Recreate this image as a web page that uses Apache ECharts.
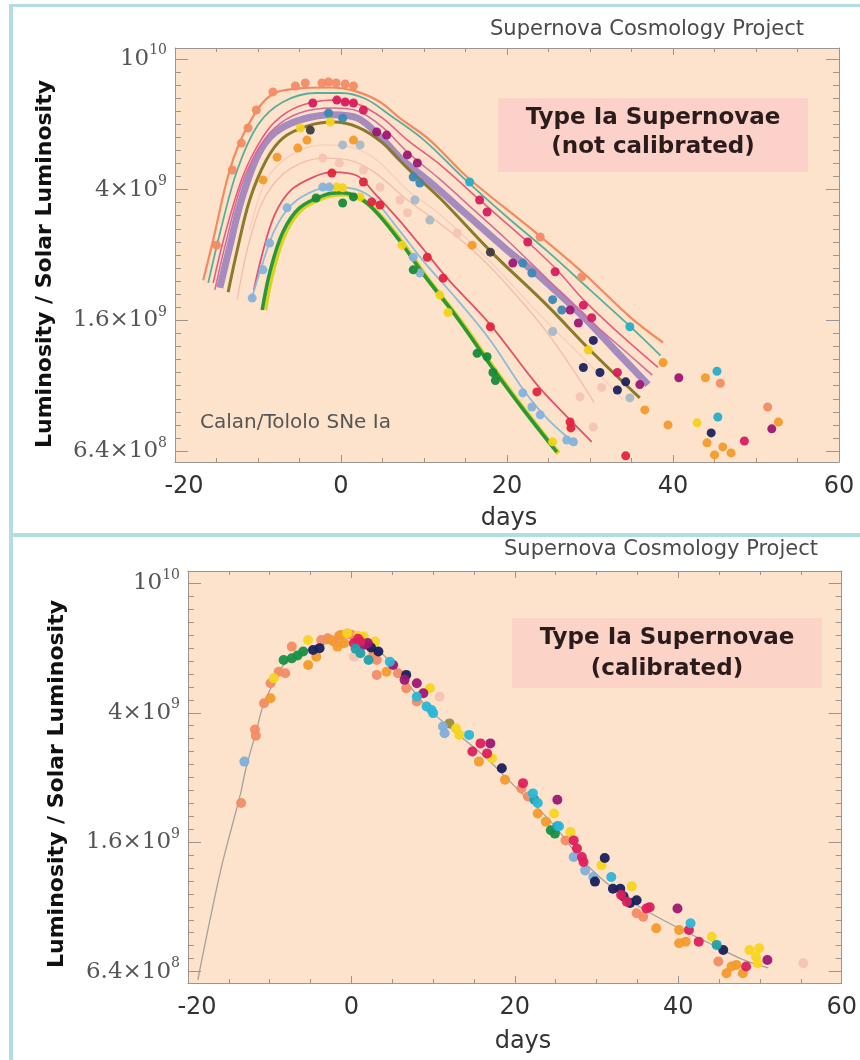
<!DOCTYPE html>
<html><head><meta charset="utf-8">
<script src="https://cdn.jsdelivr.net/npm/echarts@6/dist/echarts.min.js"></script>
<style>html,body{margin:0;padding:0;background:#fff}#c{width:860px;height:1060px}</style>
</head><body><div id="c"></div>
<script>
// ---------- DATA (days, luminosity in units of 1e9 solar luminosities) ----------
const UNIT = 1e9;
const xTickValues = [-20, 0, 20, 40, 60];
const yTickValues = [6.4e8, 1.6e9, 4e9, 1e10];
const yTickMantissa = ['6.4×10', '1.6×10', '4×10', '10'];
const yTickExponent = ['8', '9', '9', '10'];

// Top panel: fitted light curves (not calibrated)
const topOrange = [[-16.6,2.12],[-15.4,2.81],[-13.4,4.59],[-11.3,6.20],[-8.6,7.70],[-5.3,8.12],[-1.3,8.18],[1.9,7.95],[4.7,7.39],[7.1,6.60],[10.7,5.66],[15.2,4.37],[23.1,3.01],[29.2,2.23],[34.8,1.64],[38.8,1.37]];
const topTeal = [[-16.0,2.08],[-14.5,3.01],[-12.5,4.59],[-10,6.30],[-7,7.39],[-3,7.87],[0,7.87],[3,7.55],[6,6.71],[10,5.66],[15,4.28],[20,3.30],[25,2.58],[30,1.98],[35,1.52],[38.5,1.25]];
const topPink = [[-15.4,2.08],[-14,2.91],[-12,4.28],[-10,5.47],[-8,6.42],[-5,7.18],[-1,7.49],[2,7.29],[5,6.60],[8,5.66],[12,4.75],[16.7,3.72],[22.5,2.77],[26,2.28],[29.2,1.85],[33,1.50],[38.2,1.15]];
const topRose = [[-15.2,1.98],[-13.8,2.81],[-12,4.13],[-10,5.28],[-8,6.16],[-5,6.84],[-1,7.08],[2,6.94],[5,6.20],[8,5.20],[12,4.28],[16,3.47],[20,2.81],[25,2.12],[30,1.60],[35,1.24],[37.5,1.09]];
const topPurple = [[-14.6,2.01],[-13.5,2.62],[-12,3.72],[-10,5.10],[-8,5.95],[-5,6.51],[-1,6.76],[2,6.60],[5,5.70],[7.1,5.00],[10.7,4.22],[15.2,3.35],[20,2.62],[24,2.17],[29.2,1.64],[33,1.30],[37,1.02]];
const topOlive = [[-13.6,1.95],[-12.5,2.62],[-11,3.72],[-9,4.92],[-7,5.74],[-4,6.25],[-1,6.42],[2,6.20],[5,5.55],[8,4.65],[12,3.75],[18,2.60],[24.8,1.78],[30,1.30],[36,0.929]];
const topPale1 = [[-12.5,1.85],[-11,2.81],[-9,3.86],[-6,4.65],[-2,4.99],[1,4.92],[4,4.52],[8,3.72],[12,3.14],[16,2.60],[20,2.05],[25,1.45],[30.5,0.90]];
const topPale2 = [[-11,3.01],[-9,4.28],[-6,5.10],[-2,5.47],[1,5.40],[4,4.99],[8,3.99],[12,3.35],[18,2.41],[24,1.66],[30,1.17],[34,0.916]];
const topRed = [[-10.5,1.98],[-9.5,2.54],[-8,3.35],[-6,3.99],[-3,4.40],[-1,4.52],[2,4.40],[4,3.91],[7,3.23],[10,2.62],[13,2.12],[18,1.55],[23.6,1.02],[27.6,0.796],[30.2,0.683]];
const topLightBlue = [[-10.8,1.85],[-9.5,2.36],[-8,3.01],[-6,3.59],[-3,3.99],[-0.5,4.07],[2,3.99],[4,3.72],[7,3.01],[10,2.41],[14,1.85],[18,1.39],[22,0.982],[25,0.796],[28.4,0.668]];
const topYellow = [[-9.2,1.72],[-8.2,2.28],[-6.7,2.97],[-4.7,3.50],[-1.7,3.82],[0.3,3.88],[2.3,3.76],[4.3,3.42],[7.3,2.77],[10.3,2.16],[14.3,1.60],[18.3,1.15],[22.3,0.84],[26.2,0.63]];
const topGreen = [[-9.5,1.72],[-8.5,2.28],[-7,2.97],[-5,3.52],[-2,3.85],[0,3.91],[2,3.80],[4,3.47],[7,2.81],[10,2.20],[14,1.63],[18,1.17],[22,0.854],[26,0.636]];

// Top panel: observations
const topDotCoral = [[-15,2.71],[-13.1,4.59],[-12,5.54],[-11.2,6.16],[-10.2,6.99],[-8.2,7.93],[-5.5,8.27],[-4.3,8.44],[-2.3,8.44],[-1.5,8.50],[-0.6,8.44],[0.5,8.38],[1.5,8.27],[24,2.87],[29,2.17],[45.7,1.03],[51.4,0.872]];
const topDotOrange = [[-9.4,4.28],[-7.7,5.02],[-5.2,5.35],[-4.1,5.66],[1.5,5.66],[15.8,2.71],[36.6,0.854],[38.8,1.19],[39.4,0.769],[43.9,1.07],[44.1,0.678],[45,0.623],[46,0.659],[47,0.632],[52.7,0.785]];
const topDotMagenta = [[4.3,5.99],[5.5,5.86],[8,5.10],[9.2,4.82],[20.7,2.39],[27.6,1.72],[28.6,1.57],[36,1.02],[40.7,1.07],[51.9,0.748]];
const topDotCrimson = [[-3.4,7.34],[-0.5,7.49],[0.5,7.39],[1.5,7.34],[2.7,6.99],[16.7,3.72],[17.6,3.42],[22.5,2.77],[25.8,2.25],[29.2,1.78],[30.2,1.63],[33.3,1.11],[48.6,0.687]];
const topDotBlue = [[-1.5,6.84],[0.2,6.60],[8.7,4.37],[9.5,4.19],[21.9,2.39],[23,2.23],[25.5,1.85],[26.6,1.72]];
const topDotCyan = [[15.5,4.22],[34.8,1.53],[45.3,1.12],[45.4,0.813]];
const topDotNavy = [[29.2,1.15],[30.4,1.39],[31.2,1.11],[33.3,0.982],[34.3,1.04],[44.6,0.727]];
const topDotYellow = [[-4.9,6.16],[-1.3,6.42],[-0.5,4.07],[0.2,4.05],[2.3,3.80],[7.35,2.71],[11.9,1.91],[12.9,1.69],[25.5,0.683],[29.8,1.30],[42.9,0.780]];
const topDotDark = [[-3.7,6.07],[18,2.58]];
const topDotPale = [[-2.2,4.99],[-0.2,4.82],[2.7,4.59],[4.7,4.07],[7.1,3.72],[8,3.40],[14,2.95],[28.8,0.936],[30.4,0.758],[31.4,1.00]];
const topDotGray = [[0.2,5.47],[2.3,5.47],[8.9,3.72],[10.7,3.23],[25.5,1.48],[34.8,0.929]];
const topDotLightBlue = [[-10.7,1.87],[-9.4,2.28],[-8.6,2.75],[-6.5,3.52],[-2.2,4.07],[-1.4,4.07],[8.7,2.49],[9.5,2.23],[21.9,0.962],[23,0.872],[24,0.825],[27.2,0.692],[28,0.683]];
const topDotRed = [[-1.1,4.49],[2.7,4.22],[3.7,3.67],[4.7,3.59],[10.4,2.49],[12.3,2.15],[18,1.53],[23.6,0.969],[27.6,0.785],[27.7,0.753],[34.3,0.619]];
const topDotGreen = [[-3,3.77],[0.2,3.64],[1.5,3.80],[8.7,2.28],[16.4,1.27],[17.6,1.24],[18.3,1.11],[18.6,1.05]];

// Bottom panel: template curve and calibrated observations
const botTemplate = [[-18.8,0.603],[-16.0,1.31],[-13.6,2.24],[-12.9,2.70],[-11.7,3.47],[-10.7,4.29],[-9.3,5.05],[-8.1,5.69],[-6.1,6.11],[-3.7,6.47],[-1.3,6.61],[1.1,6.56],[3.5,6.15],[5.9,5.30],[9.2,4.17],[12.4,3.54],[16.4,2.92],[20.4,2.32],[24.4,1.85],[28,1.43],[31,1.21],[34,1.06],[37,0.955],[40.5,0.859],[44.5,0.767],[48,0.695],[51,0.657]];
const botCoral = [[-13.5,2.11],[-11.8,3.55],[-11.7,3.40],[-10.7,4.28],[-9.9,4.93],[-8.9,5.35],[-8.1,5.29],[-7.3,6.39],[-3.7,6.70],[-2.9,6.78],[-2.1,6.62],[-1.5,6.90],[-0.5,7.00],[0.0,6.95],[0.5,6.80],[1.8,6.50],[2.7,6.10],[3.1,5.81],[3.1,5.23],[5.7,5.29],[6.7,4.76],[8.0,4.33],[20.8,2.34],[21.6,2.21],[26.2,1.62],[34.9,0.967],[35.7,0.944],[44.9,0.687]];
const botOrange = [[-9.9,4.43],[-5.3,5.61],[-4.3,5.95],[-2.5,6.70],[-1.7,6.39],[-1.3,6.94],[-0.9,6.54],[4.3,5.35],[15.6,2.83],[18.8,2.49],[22.8,1.96],[23.8,1.85],[37.3,0.870],[40.1,0.782],[40.1,0.859],[40.9,0.791],[45.9,0.632],[46.5,0.663],[47.1,0.671],[47.9,0.632]];
const botYellow = [[-9.5,5.11],[-5.3,6.70],[-0.5,7.02],[0.8,6.90],[1.5,6.86],[2.9,6.62],[9.6,4.76],[12.8,3.58],[13.2,3.42],[17.2,2.90],[24.8,1.96],[26.8,1.72],[30.6,1.36],[34.3,1.17],[44.1,0.819],[48.7,0.746],[49.9,0.755],[49.5,0.711],[49.7,0.679]];
const botGreen = [[-8.3,5.81],[-7.3,5.88],[-6.6,6.00],[-5.9,6.17],[24.4,1.74],[24.9,1.70]];
const botNavy = [[-4.7,6.24],[-3.9,6.32],[2.4,6.35],[3.3,6.17],[6.7,5.23],[18.4,2.70],[31.0,1.43],[29.8,1.21],[32.0,1.15],[32.9,1.15],[33.3,1.09],[34.1,1.04],[34.9,1.06],[45.5,0.746]];
const botMagenta = [[1.5,6.47],[2.0,6.55],[5.1,5.61],[6.5,5.05],[8.0,4.93],[8.8,4.59],[17.0,3.22],[25.2,2.16],[39.9,1.00],[50.9,0.695]];
const botCrimson = [[0.3,6.54],[0.8,6.75],[1.1,6.62],[14.8,3.04],[15.8,3.22],[16.6,3.00],[21.0,2.43],[27.2,1.62],[27.6,1.53],[28.2,1.44],[28.4,1.39],[33.0,1.10],[33.7,1.05],[36.1,1.00],[36.5,1.01],[41.3,0.859],[42.5,0.791],[48.3,0.663]];
const botTeal = [[0.5,6.30],[1.1,6.10],[2.1,5.81],[22.4,2.16],[25.2,1.79],[44.7,0.773]];
const botCyan = [[4.7,5.74],[8.0,4.48],[9.2,4.18],[9.8,4.08],[10.0,3.99],[14.4,3.42],[22.2,2.26],[22.8,2.11],[25.4,1.79],[31.8,1.25],[41.5,0.901]];
const botLightBlue = [[-13.1,2.83],[11.2,3.63],[11.4,3.46],[27.2,1.44],[28.6,1.31],[29.6,1.25]];
const botPale = [[0.3,5.95],[10.8,4.48],[55.3,0.679]];
const botOlive = [[12.0,3.71]];

// ---------- STYLE / LAYOUT ----------
const AXIS_COLOR = '#9c958f';
const PLOT_BG = '#fde3cb';
const FRAME = '#b4dde1';
const TOP_Y = [8.773, 10.033];
const BOT_Y = [8.771, 10.038];

const toXY = arr => arr.map(p => [p[0], Math.log10(p[1] * UNIT)]);
const majorLog = yTickValues.map(Math.log10);
const step = (majorLog[2] - majorLog[1]) / 10;
function minorTicks(lo, hi) {
  const out = [];
  for (let k = -40; k <= 60; k++) {
    const v = majorLog[0] + k * step;
    if (v > lo + 1e-6 && v < hi - 1e-6) out.push(+v.toFixed(6));
  }
  return out;
}
const labelFmt = v => {
  let bi = 0, bd = 1e9;
  majorLog.forEach((m, i) => { const d = Math.abs(m - v); if (d < bd) { bd = d; bi = i; } });
  return '{m|' + yTickMantissa[bi] + '}{e|' + yTickExponent[bi] + '}';
};
const rich = {
  m: {fontFamily: 'DejaVu Serif', fontSize: 23, color: '#555', lineHeight: 30},
  e: {fontFamily: 'DejaVu Serif', fontSize: 14, color: '#555', verticalAlign: 'top', lineHeight: 16}
};
const xLabelFmt = v => v < 0 ? '{n|' + v + '}' : '{p|' + v + '}';
const xRich = {
  n: {fontFamily: 'DejaVu Sans', fontSize: 24, color: '#333', padding: [0, 0, 0, 18]},
  p: {fontFamily: 'DejaVu Sans', fontSize: 24, color: '#333'}
};

function axesFor(g, yr) {
  const common = {gridIndex: g, type: 'value', splitLine: {show: false},
    axisLine: {show: true, onZero: false, lineStyle: {color: AXIS_COLOR, width: 1}}};
  const xs = [
    Object.assign({}, common, {min: xTickValues[0], max: xTickValues[xTickValues.length - 1], interval: 20, position: 'bottom',
      axisTick: {inside: true, length: 7, lineStyle: {color: AXIS_COLOR}},
      minorTick: {show: true, splitNumber: 4, length: 4, lineStyle: {color: AXIS_COLOR}},
      axisLabel: {formatter: xLabelFmt, rich: xRich, margin: 13}}),
    Object.assign({}, common, {min: xTickValues[0], max: xTickValues[xTickValues.length - 1], interval: 20, position: 'top',
      axisTick: {inside: true, length: 7, lineStyle: {color: AXIS_COLOR}},
      minorTick: {show: true, splitNumber: 4, length: 4, lineStyle: {color: AXIS_COLOR}},
      axisLabel: {show: false}})
  ];
  const mins = minorTicks(yr[0], yr[1]);
  const mk = (pos, major) => Object.assign({}, common, {min: yr[0], max: yr[1], position: pos,
    axisLine: {show: major, onZero: false, lineStyle: {color: AXIS_COLOR, width: 1}},
    axisTick: {inside: true, length: major ? 13 : 6, customValues: major ? majorLog : mins, lineStyle: {color: AXIS_COLOR}},
    axisLabel: (major && pos === 'left') ? {customValues: majorLog, formatter: labelFmt, rich: rich, margin: 8} : {show: false}});
  const ys = [mk('left', true), mk('left', false), mk('right', true), mk('right', false)];
  return {xs, ys};
}
const a0 = axesFor(0, TOP_Y), a1 = axesFor(1, BOT_Y);

const series = [];
function line(data, color, width, xi, yi, opacity) {
  series.push({type: 'line', data: toXY(data), xAxisIndex: xi, yAxisIndex: yi, smooth: 0.35, symbol: 'none', silent: true,
    lineStyle: {color: color, width: width, opacity: opacity == null ? 1 : opacity}, z: 3});
}
function dots(data, color, size, xi, yi) {
  series.push({type: 'scatter', data: toXY(data), xAxisIndex: xi, yAxisIndex: yi, symbol: 'circle', symbolSize: size, silent: true,
    itemStyle: {color: color, opacity: 0.95}, z: 4});
}
// top lines
line(topPale2, '#f7cdbf', 1.3, 0, 0);
line(topPale1, '#f4bcad', 1.3, 0, 0);
line(topPurple, '#8e74ba', 7, 0, 0, 0.8);
line(topOlive, '#8a7a2a', 3, 0, 0);
line(topRose, '#d8689a', 1.5, 0, 0);
line(topPink, '#e65d7e', 1.6, 0, 0);
line(topTeal, '#5aae98', 1.8, 0, 0);
line(topOrange, '#f4895e', 2.2, 0, 0);
line(topRed, '#e2506a', 1.8, 0, 0);
line(topLightBlue, '#8dbbd9', 1.8, 0, 0);
line(topYellow, '#d8d41e', 5, 0, 0);
line(topGreen, '#28983c', 3.5, 0, 0);
// top dots
const TS = 9;
dots(topDotPale, '#f6c3b3', TS, 0, 0);
dots(topDotGray, '#a9b8c8', TS, 0, 0);
dots(topDotCoral, '#f28c66', TS, 0, 0);
dots(topDotOrange, '#f39a2b', TS, 0, 0);
dots(topDotMagenta, '#9e1672', TS, 0, 0);
dots(topDotCrimson, '#d81b5c', TS, 0, 0);
dots(topDotBlue, '#3a88b5', TS, 0, 0);
dots(topDotCyan, '#26aec6', TS, 0, 0);
dots(topDotNavy, '#1c2260', TS, 0, 0);
dots(topDotYellow, '#f2d21a', TS, 0, 0);
dots(topDotDark, '#3d3d3d', TS, 0, 0);
dots(topDotLightBlue, '#86b2db', TS, 0, 0);
dots(topDotRed, '#e1243e', TS, 0, 0);
dots(topDotGreen, '#178a3a', TS, 0, 0);
// bottom
line(botTemplate, '#a6a09c', 1.3, 2, 4);
const BS = 10;
dots(botPale, '#f4c4b4', BS, 2, 4);
dots(botOlive, '#9a8d3c', BS, 2, 4);
dots(botLightBlue, '#7eaedb', BS, 2, 4);
dots(botCoral, '#f28c66', BS, 2, 4);
dots(botOrange, '#f39a2b', BS, 2, 4);
dots(botYellow, '#f7d51d', BS, 2, 4);
dots(botGreen, '#189046', BS, 2, 4);
dots(botNavy, '#1a1d5c', BS, 2, 4);
dots(botMagenta, '#9e1672', BS, 2, 4);
dots(botCrimson, '#dc1f5c', BS, 2, 4);
dots(botTeal, '#1fa0a8', BS, 2, 4);
dots(botCyan, '#2bb6d6', BS, 2, 4);

const txt = (t, x, y, font, fill, lh) => ({type: 'text', z: 20, style: {text: t, x: x, y: y, font: font, fill: fill, textAlign: 'center', textVerticalAlign: 'middle', lineHeight: lh || undefined}});
const vtxt = (t, x, y) => ({type: 'text', z: 20, x: x, y: y, rotation: Math.PI / 2,
  style: {text: t, x: 0, y: 0, font: 'bold 22px "DejaVu Sans"', fill: '#111', textAlign: 'center', textVerticalAlign: 'middle'}});

const option = {
  backgroundColor: '#ffffff',
  animation: false,
  grid: [
    {left: 175, top: 48, width: 664, height: 414, show: true, backgroundColor: PLOT_BG, borderWidth: 0},
    {left: 188, top: 571, width: 664, height: 412, show: true, backgroundColor: PLOT_BG, borderWidth: 0}
  ],
  xAxis: a0.xs.concat(a1.xs),
  yAxis: a0.ys.concat(a1.ys),
  series: series,
  graphic: [
    {type: 'rect', z: 20, shape: {x: 10, y: 4, width: 850, height: 3}, style: {fill: FRAME}},
    {type: 'rect', z: 20, shape: {x: 9, y: 4, width: 4, height: 1056}, style: {fill: FRAME}},
    {type: 'rect', z: 20, shape: {x: 9, y: 533, width: 851, height: 4}, style: {fill: FRAME}},
    txt('Supernova Cosmology Project', 647, 30, '21px "DejaVu Sans"', '#4a4a4a'),
    txt('Supernova Cosmology Project', 661, 550, '21px "DejaVu Sans"', '#4a4a4a'),
    {type: 'rect', z: 19, shape: {x: 498, y: 98, width: 310, height: 74}, style: {fill: '#fbd1c9'}},
    txt('Type Ia Supernovae\n(not calibrated)', 653, 133, 'bold 23px "DejaVu Sans"', '#2b1c1c', 29),
    {type: 'rect', z: 19, shape: {x: 512, y: 618, width: 310, height: 70}, style: {fill: '#fbd3c7'}},
    txt('Type Ia Supernovae\n(calibrated)', 667, 654, 'bold 23px "DejaVu Sans"', '#2b1c1c', 31),
    {type: 'text', z: 20, style: {text: 'Calan/Tololo SNe Ia', x: 200, y: 423, font: '20px "DejaVu Sans"', fill: '#555', textAlign: 'left', textVerticalAlign: 'middle'}},
    vtxt('Luminosity / Solar Luminosity', 45, 264),
    vtxt('Luminosity / Solar Luminosity', 57, 784),
    txt('days', 509, 519, '24px "DejaVu Sans"', '#333'),
    txt('days', 523, 1042, '24px "DejaVu Sans"', '#333')
  ]
};
echarts.init(document.getElementById('c'), null, {renderer: 'canvas'}).setOption(option);
</script></body></html>
